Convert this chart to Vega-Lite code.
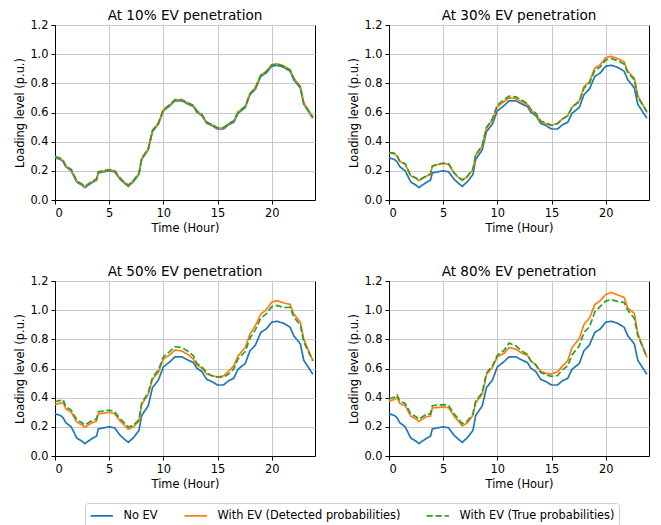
{
  "$schema": "https://vega.github.io/schema/vega-lite/v6.json",
  "padding": {"left": 14, "top": 8, "right": 5, "bottom": 0},
  "background": "white",
  "config": {
    "font": "DejaVu Sans",
    "view": {"stroke": "black", "strokeWidth": 1},
    "title": {"font": "DejaVu Sans", "fontSize": 13.6, "fontWeight": "normal", "color": "black", "offset": -4, "anchor": "middle"},
    "axis": {
      "labelFont": "DejaVu Sans", "labelFontSize": 11.4, "labelColor": "black",
      "titleFont": "DejaVu Sans", "titleFontSize": 11.4, "titleFontWeight": "normal", "titleColor": "black",
      "tickColor": "black", "tickSize": 4, "labelPadding": 3, "titlePadding": 4,
      "domainColor": "black", "gridColor": "#c8c8c8", "gridWidth": 1
    },
    "legend": {
      "orient": "none", "legendX": 30, "legendY": 478, "direction": "horizontal",
      "labelFont": "DejaVu Sans", "labelFontSize": 11.4, "labelColor": "black", "labelLimit": 400,
      "symbolType": "M-1,0H2.2", "symbolSize": 196, "symbolStrokeWidth": 1.7,
      "strokeColor": "#cccccc", "cornerRadius": 3, "fillColor": "white", "padding": 4.5,
      "columnPadding": 22, "labelOffset": 18
    }
  },
  "data": {"values": [
    {"p":10,"h":0,"a":0.290,"b":0.296,"c":0.298},
    {"p":10,"h":0.5,"a":0.278,"b":0.284,"c":0.286},
    {"p":10,"h":0.75,"a":0.262,"b":0.268,"c":0.270},
    {"p":10,"h":1,"a":0.228,"b":0.234,"c":0.236},
    {"p":10,"h":1.5,"a":0.200,"b":0.206,"c":0.208},
    {"p":10,"h":2,"a":0.124,"b":0.130,"c":0.132},
    {"p":10,"h":2.5,"a":0.101,"b":0.107,"c":0.109},
    {"p":10,"h":2.75,"a":0.085,"b":0.091,"c":0.093},
    {"p":10,"h":3.43,"a":0.120,"b":0.126,"c":0.128},
    {"p":10,"h":3.83,"a":0.136,"b":0.142,"c":0.144},
    {"p":10,"h":4,"a":0.186,"b":0.192,"c":0.194},
    {"p":10,"h":4.5,"a":0.193,"b":0.199,"c":0.201},
    {"p":10,"h":5,"a":0.200,"b":0.206,"c":0.208},
    {"p":10,"h":5.5,"a":0.193,"b":0.199,"c":0.201},
    {"p":10,"h":6,"a":0.143,"b":0.149,"c":0.151},
    {"p":10,"h":6.33,"a":0.120,"b":0.126,"c":0.128},
    {"p":10,"h":6.76,"a":0.094,"b":0.100,"c":0.102},
    {"p":10,"h":7.22,"a":0.124,"b":0.130,"c":0.132},
    {"p":10,"h":7.75,"a":0.175,"b":0.181,"c":0.183},
    {"p":10,"h":8,"a":0.278,"b":0.284,"c":0.286},
    {"p":10,"h":8.6,"a":0.343,"b":0.349,"c":0.351},
    {"p":10,"h":9,"a":0.469,"b":0.475,"c":0.477},
    {"p":10,"h":9.54,"a":0.520,"b":0.526,"c":0.528},
    {"p":10,"h":10,"a":0.611,"b":0.617,"c":0.619},
    {"p":10,"h":10.6,"a":0.646,"b":0.652,"c":0.654},
    {"p":10,"h":11.08,"a":0.680,"b":0.686,"c":0.688},
    {"p":10,"h":11.7,"a":0.680,"b":0.686,"c":0.688},
    {"p":10,"h":12.3,"a":0.657,"b":0.663,"c":0.665},
    {"p":10,"h":12.78,"a":0.641,"b":0.647,"c":0.649},
    {"p":10,"h":13.09,"a":0.602,"b":0.608,"c":0.610},
    {"p":10,"h":13.55,"a":0.579,"b":0.585,"c":0.587},
    {"p":10,"h":14,"a":0.526,"b":0.532,"c":0.534},
    {"p":10,"h":14.5,"a":0.510,"b":0.516,"c":0.518},
    {"p":10,"h":15,"a":0.487,"b":0.493,"c":0.495},
    {"p":10,"h":15.56,"a":0.487,"b":0.494,"c":0.496},
    {"p":10,"h":16,"a":0.515,"b":0.522,"c":0.524},
    {"p":10,"h":16.5,"a":0.533,"b":0.541,"c":0.543},
    {"p":10,"h":16.9,"a":0.595,"b":0.603,"c":0.605},
    {"p":10,"h":17.56,"a":0.634,"b":0.643,"c":0.641},
    {"p":10,"h":18,"a":0.722,"b":0.731,"c":0.729},
    {"p":10,"h":18.5,"a":0.761,"b":0.771,"c":0.769},
    {"p":10,"h":19,"a":0.848,"b":0.858,"c":0.856},
    {"p":10,"h":19.5,"a":0.871,"b":0.881,"c":0.879},
    {"p":10,"h":20,"a":0.917,"b":0.927,"c":0.925},
    {"p":10,"h":20.5,"a":0.924,"b":0.934,"c":0.932},
    {"p":10,"h":21.1,"a":0.910,"b":0.920,"c":0.918},
    {"p":10,"h":21.7,"a":0.883,"b":0.893,"c":0.891},
    {"p":10,"h":22.04,"a":0.825,"b":0.835,"c":0.833},
    {"p":10,"h":22.65,"a":0.768,"b":0.777,"c":0.775},
    {"p":10,"h":22.96,"a":0.657,"b":0.666,"c":0.664},
    {"p":10,"h":23.8,"a":0.561,"b":0.568,"c":0.568},

    {"p":30,"h":0,"a":0.290,"b":0.324,"c":0.327},
    {"p":30,"h":0.5,"a":0.278,"b":0.317,"c":0.320},
    {"p":30,"h":0.75,"a":0.262,"b":0.299,"c":0.302},
    {"p":30,"h":1,"a":0.228,"b":0.264,"c":0.267},
    {"p":30,"h":1.5,"a":0.200,"b":0.245,"c":0.248},
    {"p":30,"h":2,"a":0.124,"b":0.166,"c":0.169},
    {"p":30,"h":2.5,"a":0.101,"b":0.148,"c":0.151},
    {"p":30,"h":2.75,"a":0.085,"b":0.132,"c":0.135},
    {"p":30,"h":3.43,"a":0.120,"b":0.162,"c":0.165},
    {"p":30,"h":3.83,"a":0.136,"b":0.176,"c":0.179},
    {"p":30,"h":4,"a":0.186,"b":0.231,"c":0.234},
    {"p":30,"h":4.5,"a":0.193,"b":0.243,"c":0.246},
    {"p":30,"h":5,"a":0.200,"b":0.250,"c":0.253},
    {"p":30,"h":5.5,"a":0.193,"b":0.245,"c":0.248},
    {"p":30,"h":6,"a":0.143,"b":0.185,"c":0.188},
    {"p":30,"h":6.33,"a":0.120,"b":0.160,"c":0.163},
    {"p":30,"h":6.76,"a":0.094,"b":0.134,"c":0.137},
    {"p":30,"h":7.22,"a":0.124,"b":0.160,"c":0.163},
    {"p":30,"h":7.75,"a":0.175,"b":0.207,"c":0.210},
    {"p":30,"h":8,"a":0.278,"b":0.306,"c":0.311},
    {"p":30,"h":8.6,"a":0.343,"b":0.368,"c":0.373},
    {"p":30,"h":9,"a":0.469,"b":0.493,"c":0.498},
    {"p":30,"h":9.54,"a":0.520,"b":0.545,"c":0.557},
    {"p":30,"h":10,"a":0.611,"b":0.639,"c":0.651},
    {"p":30,"h":10.6,"a":0.646,"b":0.674,"c":0.686},
    {"p":30,"h":11.08,"a":0.680,"b":0.700,"c":0.712},
    {"p":30,"h":11.7,"a":0.680,"b":0.695,"c":0.707},
    {"p":30,"h":12.3,"a":0.657,"b":0.671,"c":0.683},
    {"p":30,"h":12.78,"a":0.641,"b":0.655,"c":0.661},
    {"p":30,"h":13.09,"a":0.602,"b":0.615,"c":0.621},
    {"p":30,"h":13.55,"a":0.579,"b":0.590,"c":0.596},
    {"p":30,"h":14,"a":0.526,"b":0.536,"c":0.542},
    {"p":30,"h":14.5,"a":0.510,"b":0.522,"c":0.528},
    {"p":30,"h":15,"a":0.487,"b":0.512,"c":0.512},
    {"p":30,"h":15.56,"a":0.487,"b":0.525,"c":0.525},
    {"p":30,"h":16,"a":0.515,"b":0.555,"c":0.555},
    {"p":30,"h":16.5,"a":0.533,"b":0.578,"c":0.578},
    {"p":30,"h":16.9,"a":0.595,"b":0.637,"c":0.637},
    {"p":30,"h":17.56,"a":0.634,"b":0.680,"c":0.674},
    {"p":30,"h":18,"a":0.722,"b":0.777,"c":0.767},
    {"p":30,"h":18.5,"a":0.761,"b":0.811,"c":0.801},
    {"p":30,"h":19,"a":0.848,"b":0.905,"c":0.890},
    {"p":30,"h":19.5,"a":0.871,"b":0.928,"c":0.913},
    {"p":30,"h":20,"a":0.917,"b":0.975,"c":0.960},
    {"p":30,"h":20.5,"a":0.924,"b":0.986,"c":0.971},
    {"p":30,"h":21.1,"a":0.910,"b":0.970,"c":0.955},
    {"p":30,"h":21.7,"a":0.883,"b":0.947,"c":0.932},
    {"p":30,"h":22.04,"a":0.825,"b":0.883,"c":0.873},
    {"p":30,"h":22.65,"a":0.768,"b":0.834,"c":0.824},
    {"p":30,"h":22.96,"a":0.657,"b":0.715,"c":0.705},
    {"p":30,"h":23.8,"a":0.561,"b":0.603,"c":0.607},

    {"p":50,"h":0,"a":0.290,"b":0.354,"c":0.372},
    {"p":50,"h":0.5,"a":0.278,"b":0.361,"c":0.381},
    {"p":50,"h":0.75,"a":0.262,"b":0.367,"c":0.387},
    {"p":50,"h":1,"a":0.228,"b":0.323,"c":0.338},
    {"p":50,"h":1.5,"a":0.200,"b":0.300,"c":0.315},
    {"p":50,"h":2,"a":0.124,"b":0.234,"c":0.249},
    {"p":50,"h":2.5,"a":0.101,"b":0.213,"c":0.228},
    {"p":50,"h":2.75,"a":0.085,"b":0.198,"c":0.213},
    {"p":50,"h":3.43,"a":0.120,"b":0.228,"c":0.243},
    {"p":50,"h":3.83,"a":0.136,"b":0.239,"c":0.254},
    {"p":50,"h":4,"a":0.186,"b":0.289,"c":0.304},
    {"p":50,"h":4.5,"a":0.193,"b":0.293,"c":0.308},
    {"p":50,"h":5,"a":0.200,"b":0.300,"c":0.315},
    {"p":50,"h":5.5,"a":0.193,"b":0.290,"c":0.305},
    {"p":50,"h":6,"a":0.143,"b":0.240,"c":0.255},
    {"p":50,"h":6.33,"a":0.120,"b":0.217,"c":0.232},
    {"p":50,"h":6.76,"a":0.094,"b":0.184,"c":0.199},
    {"p":50,"h":7.22,"a":0.124,"b":0.199,"c":0.209},
    {"p":50,"h":7.75,"a":0.175,"b":0.239,"c":0.249},
    {"p":50,"h":8,"a":0.278,"b":0.354,"c":0.364},
    {"p":50,"h":8.6,"a":0.343,"b":0.423,"c":0.433},
    {"p":50,"h":9,"a":0.469,"b":0.526,"c":0.541},
    {"p":50,"h":9.54,"a":0.520,"b":0.573,"c":0.588},
    {"p":50,"h":10,"a":0.611,"b":0.664,"c":0.679},
    {"p":50,"h":10.6,"a":0.646,"b":0.694,"c":0.717},
    {"p":50,"h":11.08,"a":0.680,"b":0.726,"c":0.749},
    {"p":50,"h":11.7,"a":0.680,"b":0.721,"c":0.744},
    {"p":50,"h":12.3,"a":0.657,"b":0.694,"c":0.717},
    {"p":50,"h":12.78,"a":0.641,"b":0.664,"c":0.687},
    {"p":50,"h":13.09,"a":0.602,"b":0.625,"c":0.635},
    {"p":50,"h":13.55,"a":0.579,"b":0.602,"c":0.612},
    {"p":50,"h":14,"a":0.526,"b":0.561,"c":0.571},
    {"p":50,"h":14.5,"a":0.510,"b":0.550,"c":0.550},
    {"p":50,"h":15,"a":0.487,"b":0.542,"c":0.542},
    {"p":50,"h":15.56,"a":0.487,"b":0.549,"c":0.541},
    {"p":50,"h":16,"a":0.515,"b":0.580,"c":0.560},
    {"p":50,"h":16.5,"a":0.533,"b":0.618,"c":0.598},
    {"p":50,"h":16.9,"a":0.595,"b":0.687,"c":0.667},
    {"p":50,"h":17.56,"a":0.634,"b":0.744,"c":0.716},
    {"p":50,"h":18,"a":0.722,"b":0.837,"c":0.809},
    {"p":50,"h":18.5,"a":0.761,"b":0.894,"c":0.866},
    {"p":50,"h":19,"a":0.848,"b":0.974,"c":0.946},
    {"p":50,"h":19.5,"a":0.871,"b":1.002,"c":0.974},
    {"p":50,"h":20,"a":0.917,"b":1.055,"c":1.023},
    {"p":50,"h":20.5,"a":0.924,"b":1.065,"c":1.033},
    {"p":50,"h":21.1,"a":0.910,"b":1.050,"c":1.018},
    {"p":50,"h":21.7,"a":0.883,"b":1.039,"c":1.019},
    {"p":50,"h":22.04,"a":0.825,"b":0.974,"c":0.954},
    {"p":50,"h":22.65,"a":0.768,"b":0.917,"c":0.897},
    {"p":50,"h":22.96,"a":0.657,"b":0.802,"c":0.782},
    {"p":50,"h":23.8,"a":0.561,"b":0.653,"c":0.653},

    {"p":80,"h":0,"a":0.290,"b":0.375,"c":0.391},
    {"p":80,"h":0.5,"a":0.278,"b":0.388,"c":0.404},
    {"p":80,"h":0.75,"a":0.262,"b":0.402,"c":0.418},
    {"p":80,"h":1,"a":0.228,"b":0.359,"c":0.375},
    {"p":80,"h":1.5,"a":0.200,"b":0.345,"c":0.361},
    {"p":80,"h":2,"a":0.124,"b":0.274,"c":0.290},
    {"p":80,"h":2.5,"a":0.101,"b":0.253,"c":0.269},
    {"p":80,"h":2.75,"a":0.085,"b":0.237,"c":0.253},
    {"p":80,"h":3.43,"a":0.120,"b":0.269,"c":0.285},
    {"p":80,"h":3.83,"a":0.136,"b":0.274,"c":0.290},
    {"p":80,"h":4,"a":0.186,"b":0.329,"c":0.345},
    {"p":80,"h":4.5,"a":0.193,"b":0.333,"c":0.349},
    {"p":80,"h":5,"a":0.200,"b":0.336,"c":0.352},
    {"p":80,"h":5.5,"a":0.193,"b":0.331,"c":0.347},
    {"p":80,"h":6,"a":0.143,"b":0.274,"c":0.290},
    {"p":80,"h":6.33,"a":0.120,"b":0.246,"c":0.262},
    {"p":80,"h":6.76,"a":0.094,"b":0.206,"c":0.222},
    {"p":80,"h":7.22,"a":0.124,"b":0.227,"c":0.239},
    {"p":80,"h":7.75,"a":0.175,"b":0.278,"c":0.290},
    {"p":80,"h":8,"a":0.278,"b":0.365,"c":0.377},
    {"p":80,"h":8.6,"a":0.343,"b":0.423,"c":0.433},
    {"p":80,"h":9,"a":0.469,"b":0.559,"c":0.569},
    {"p":80,"h":9.54,"a":0.520,"b":0.607,"c":0.617},
    {"p":80,"h":10,"a":0.611,"b":0.681,"c":0.691},
    {"p":80,"h":10.6,"a":0.646,"b":0.703,"c":0.723},
    {"p":80,"h":11.08,"a":0.680,"b":0.744,"c":0.774},
    {"p":80,"h":11.7,"a":0.680,"b":0.733,"c":0.756},
    {"p":80,"h":12.3,"a":0.657,"b":0.703,"c":0.718},
    {"p":80,"h":12.78,"a":0.641,"b":0.691,"c":0.696},
    {"p":80,"h":13.09,"a":0.602,"b":0.652,"c":0.652},
    {"p":80,"h":13.55,"a":0.579,"b":0.625,"c":0.625},
    {"p":80,"h":14,"a":0.526,"b":0.581,"c":0.573},
    {"p":80,"h":14.5,"a":0.510,"b":0.567,"c":0.557},
    {"p":80,"h":15,"a":0.487,"b":0.562,"c":0.546},
    {"p":80,"h":15.56,"a":0.487,"b":0.577,"c":0.552},
    {"p":80,"h":16,"a":0.515,"b":0.615,"c":0.590},
    {"p":80,"h":16.5,"a":0.533,"b":0.653,"c":0.618},
    {"p":80,"h":16.9,"a":0.595,"b":0.745,"c":0.695},
    {"p":80,"h":17.56,"a":0.634,"b":0.804,"c":0.754},
    {"p":80,"h":18,"a":0.722,"b":0.902,"c":0.847},
    {"p":80,"h":18.5,"a":0.761,"b":0.945,"c":0.885},
    {"p":80,"h":19,"a":0.848,"b":1.038,"c":0.988},
    {"p":80,"h":19.5,"a":0.871,"b":1.066,"c":1.026},
    {"p":80,"h":20,"a":0.917,"b":1.107,"c":1.062},
    {"p":80,"h":20.5,"a":0.924,"b":1.122,"c":1.072},
    {"p":80,"h":21.1,"a":0.910,"b":1.105,"c":1.060},
    {"p":80,"h":21.7,"a":0.883,"b":1.088,"c":1.053},
    {"p":80,"h":22.04,"a":0.825,"b":1.015,"c":1.000},
    {"p":80,"h":22.65,"a":0.768,"b":0.978,"c":0.943},
    {"p":80,"h":22.96,"a":0.657,"b":0.842,"c":0.827},
    {"p":80,"h":23.8,"a":0.561,"b":0.676,"c":0.681}
  ]},
  "transform": [
    {"fold": ["a", "b", "c"], "as": ["k", "value"]},
    {"lookup": "k", "from": {"data": {"values": [
      {"k": "a", "series": "No EV"},
      {"k": "b", "series": "With EV (Detected probabilities)"},
      {"k": "c", "series": "With EV (True probabilities)"}
    ]}, "key": "k", "fields": ["series"]}}
  ],
  "columns": 2,
  "spacing": {"row": 81, "column": 74},
  "bounds": "flush",
  "concat": [
    {
      "title": "At 10% EV penetration",
      "width": 260, "height": 175,
      "transform": [{"filter": "datum.p == 10"}],
      "mark": {"type": "line", "strokeWidth": 1.7},
      "encoding": {
        "x": {"field": "h", "type": "quantitative", "scale": {"domain": [0, 24], "nice": false}, "axis": {"values": [0, 5, 10, 15, 20], "title": "Time (Hour)"}},
        "y": {"field": "value", "type": "quantitative", "scale": {"domain": [0, 1.2], "nice": false}, "axis": {"values": [0, 0.2, 0.4, 0.6, 0.8, 1.0, 1.2], "format": ".1f", "title": "Loading level (p.u.)"}},
        "color": {"field": "series", "type": "nominal", "scale": {"domain": ["No EV", "With EV (Detected probabilities)", "With EV (True probabilities)"], "range": ["#1f77b4", "#ff7f0e", "#2ca02c"]}, "legend": {"title": null}},
        "strokeDash": {"field": "series", "type": "nominal", "scale": {"domain": ["No EV", "With EV (Detected probabilities)", "With EV (True probabilities)"], "range": [[1, 0], [1, 0], [6.3, 2.7]]}, "legend": {"title": null}}
      }
    },
    {
      "title": "At 30% EV penetration",
      "width": 260, "height": 175,
      "transform": [{"filter": "datum.p == 30"}],
      "mark": {"type": "line", "strokeWidth": 1.7},
      "encoding": {
        "x": {"field": "h", "type": "quantitative", "scale": {"domain": [0, 24], "nice": false}, "axis": {"values": [0, 5, 10, 15, 20], "title": "Time (Hour)"}},
        "y": {"field": "value", "type": "quantitative", "scale": {"domain": [0, 1.2], "nice": false}, "axis": {"values": [0, 0.2, 0.4, 0.6, 0.8, 1.0, 1.2], "format": ".1f", "title": "Loading level (p.u.)"}},
        "color": {"field": "series", "type": "nominal", "scale": {"domain": ["No EV", "With EV (Detected probabilities)", "With EV (True probabilities)"], "range": ["#1f77b4", "#ff7f0e", "#2ca02c"]}, "legend": {"title": null}},
        "strokeDash": {"field": "series", "type": "nominal", "scale": {"domain": ["No EV", "With EV (Detected probabilities)", "With EV (True probabilities)"], "range": [[1, 0], [1, 0], [6.3, 2.7]]}, "legend": {"title": null}}
      }
    },
    {
      "title": "At 50% EV penetration",
      "width": 260, "height": 175,
      "transform": [{"filter": "datum.p == 50"}],
      "mark": {"type": "line", "strokeWidth": 1.7},
      "encoding": {
        "x": {"field": "h", "type": "quantitative", "scale": {"domain": [0, 24], "nice": false}, "axis": {"values": [0, 5, 10, 15, 20], "title": "Time (Hour)"}},
        "y": {"field": "value", "type": "quantitative", "scale": {"domain": [0, 1.2], "nice": false}, "axis": {"values": [0, 0.2, 0.4, 0.6, 0.8, 1.0, 1.2], "format": ".1f", "title": "Loading level (p.u.)"}},
        "color": {"field": "series", "type": "nominal", "scale": {"domain": ["No EV", "With EV (Detected probabilities)", "With EV (True probabilities)"], "range": ["#1f77b4", "#ff7f0e", "#2ca02c"]}, "legend": {"title": null}},
        "strokeDash": {"field": "series", "type": "nominal", "scale": {"domain": ["No EV", "With EV (Detected probabilities)", "With EV (True probabilities)"], "range": [[1, 0], [1, 0], [6.3, 2.7]]}, "legend": {"title": null}}
      }
    },
    {
      "title": "At 80% EV penetration",
      "width": 260, "height": 175,
      "transform": [{"filter": "datum.p == 80"}],
      "mark": {"type": "line", "strokeWidth": 1.7},
      "encoding": {
        "x": {"field": "h", "type": "quantitative", "scale": {"domain": [0, 24], "nice": false}, "axis": {"values": [0, 5, 10, 15, 20], "title": "Time (Hour)"}},
        "y": {"field": "value", "type": "quantitative", "scale": {"domain": [0, 1.2], "nice": false}, "axis": {"values": [0, 0.2, 0.4, 0.6, 0.8, 1.0, 1.2], "format": ".1f", "title": "Loading level (p.u.)"}},
        "color": {"field": "series", "type": "nominal", "scale": {"domain": ["No EV", "With EV (Detected probabilities)", "With EV (True probabilities)"], "range": ["#1f77b4", "#ff7f0e", "#2ca02c"]}, "legend": {"title": null}},
        "strokeDash": {"field": "series", "type": "nominal", "scale": {"domain": ["No EV", "With EV (Detected probabilities)", "With EV (True probabilities)"], "range": [[1, 0], [1, 0], [6.3, 2.7]]}, "legend": {"title": null}}
      }
    }
  ]
}
